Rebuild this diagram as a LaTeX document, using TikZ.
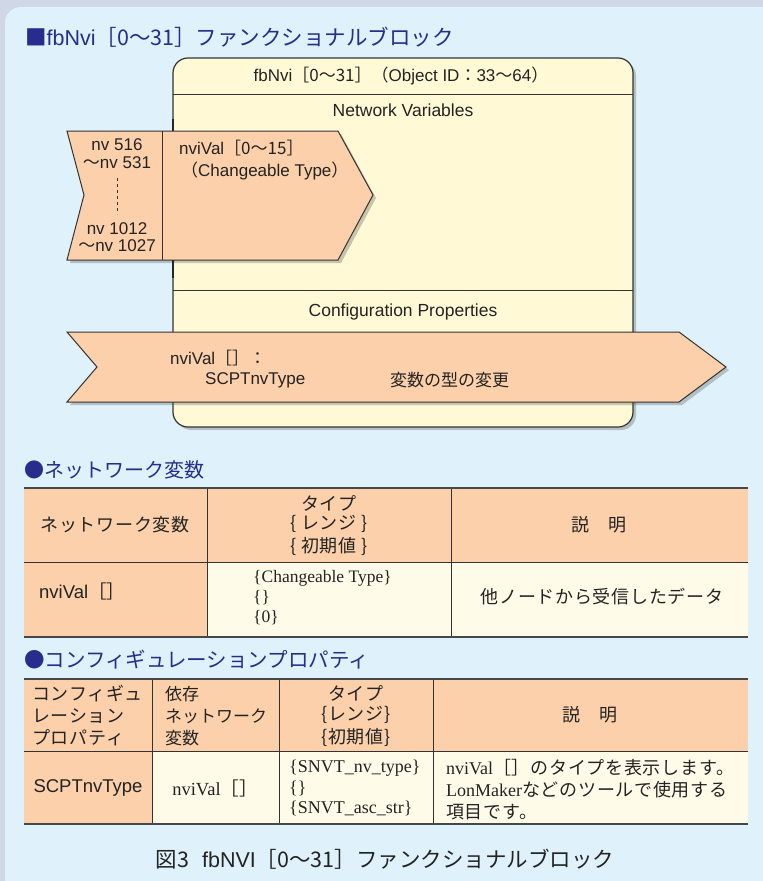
\documentclass[tikz,border=0pt]{standalone}
\usepackage{fontspec}
\setmainfont{Liberation Sans}
\newfontfamily\jp{Noto Sans CJK JP}
\newfontfamily\jpw[LetterSpace=4]{Noto Sans CJK JP}
\newfontfamily\lser{Liberation Serif}
\usetikzlibrary{shadows}
\newcommand\J[1]{{\jp #1}}
\newcommand\W[1]{{\jpw #1}}
\newcommand\fz[1]{\fontsize{#1}{#1}\selectfont}
\definecolor{outerbg}{RGB}{208,216,232}
\definecolor{panel}{RGB}{223,241,250}
\definecolor{boxfill}{RGB}{255,249,214}
\definecolor{peach}{RGB}{251,208,170}
\definecolor{cream}{RGB}{255,251,233}
\definecolor{titleblue}{RGB}{40,44,140}
\definecolor{linec}{RGB}{51,51,51}
\definecolor{textc}{RGB}{35,35,35}
\tikzset{
  shd/.style={drop shadow={shadow xshift=3pt,shadow yshift=-3pt,opacity=0.3,fill=black!70}},
  blockbox/.style={fill=boxfill,draw=linec,line width=1.2pt,rounded corners=15pt,shd},
  arrowshape/.style={fill=peach,draw=linec,line width=1pt,line join=miter,shd},
  tline/.style={draw=linec,line width=0.9pt},
  tthick/.style={draw=linec!90,line width=2pt},
  lbl/.style={inner sep=0pt,text=textc},
  sec/.style={inner sep=0pt,anchor=west,text=titleblue},
}
\begin{document}
\begin{tikzpicture}[x=1pt,y=-1pt]
\useasboundingbox (0,0) rectangle (763,881);
\fill[outerbg] (0,0) rectangle (763,881);
\fill[panel,rounded corners=16pt] (5,7) rectangle (800,920);

% title
\node[sec] (title) at (25,37) {\fz{21.5}\J{■}fbNvi\J{［0～31］ファンクショナルブロック}};

% functional block
\path[blockbox] (173,58) rectangle (633,427);
\draw[linec,line width=1pt] (173,94) -- (633,94);
\draw[linec,line width=1pt] (173,290) -- (633,290);
\node[lbl] (hdr) at (401,76) {\fz{17}fbNvi\J{［0～31］（}Object ID\J{：}33\J{～}64\J{）}};
\node[lbl] (nvlab) at (403,110) {\fz{17.5}Network Variables};
\node[lbl] (cplab) at (403,312) {\fz{17.5}Configuration Properties};

% network variable input arrow
\path[arrowshape] (67,131) -- (338,131) -- (373,195) -- (338,260) -- (67,260) -- (84,195) -- cycle;
\draw[linec,line width=1pt] (162,131) -- (162,260);
\draw[black!85,line width=2.5pt] (173,119) -- (173,131);
\draw[black!85,line width=2.5pt] (173,260) -- (173,278);
\node[lbl] (nv1) at (117,145) {\fz{17}nv 516};
\node[lbl] (nv2) at (117,163) {\fz{17}\J{～}nv 531};
\draw[linec,line width=0.8pt,dash pattern=on 3pt off 3pt] (117,178) -- (117,214);
\node[lbl] (nv3) at (117,229) {\fz{17}nv 1012};
\node[lbl] (nv4) at (117,246) {\fz{17}\J{～}nv 1027};
\node[lbl,anchor=west] (nvival) at (179,148) {\fz{17}nviVal\J{［0～15］}};
\node[lbl,anchor=west] (chg) at (181,171) {\fz{17}\J{（}Changeable Type\J{）}};

% configuration property arrow
\path[arrowshape] (67,332) -- (679,332) -- (726,367) -- (679,402) -- (67,402) -- (97,367) -- cycle;
\node[lbl,anchor=west] (cp1) at (170,358) {\fz{17}nviVal\J{［］：}};
\node[lbl,anchor=west] (cp2) at (205,380) {\fz{17}SCPTnvType};
\node[lbl,anchor=west] (cp3) at (390,380) {\fz{17}\J{変数の型の変更}};

% section 1
\node[sec] (sec1) at (24,470) {\fz{20}\J{●ネットワーク変数}};
\fill[peach] (24,488) rectangle (748,562);
\fill[peach] (24,562) rectangle (207,637);
\fill[cream] (207,562) rectangle (748,637);
\draw[tline] (24,562) -- (748,562);
\draw[tline] (207,488) -- (207,637);
\draw[tline] (451,488) -- (451,637);
\draw[tthick] (24,488) -- (748,488);
\draw[tthick] (24,637) -- (748,637);
\node[lbl] (t1h1) at (115,525) {\fz{18}\W{ネットワーク変数}};
\node[lbl] (t1h2a) at (329,503) {\fz{18}\W{タイプ}};
\node[lbl] (t1h2b) at (329,524) {\fz{18}\W{\{ レンジ \}}};
\node[lbl] (t1h2c) at (329,546) {\fz{18}\W{\{ 初期値 \}}};
\node[lbl] (t1h3) at (599,525) {\fz{18}\W{説　明}};
\node[lbl,anchor=west] (t1b1) at (39,591) {\fz{18.5}nviVal\J{［］}};
\node[lbl,anchor=west] (t1b2a) at (253,578) {\fz{17.5}\lser\{Changeable Type\}};
\node[lbl,anchor=west] (t1b2b) at (253,598) {\fz{17.5}\lser\{\}};
\node[lbl,anchor=west] (t1b2c) at (253,618) {\fz{17.5}\lser\{0\}};
\node[lbl] (t1b3) at (602,597) {\fz{18}\W{他ノードから受信したデータ}};

% section 2
\node[sec] (sec2) at (24,660) {\fz{20.5}\J{●コンフィギュレーションプロパティ}};
\fill[peach] (24,679) rectangle (748,751);
\fill[peach] (24,751) rectangle (152,824);
\fill[cream] (152,751) rectangle (748,824);
\draw[tline] (24,751) -- (748,751);
\draw[tline] (152,679) -- (152,824);
\draw[tline] (279,679) -- (279,824);
\draw[tline] (433,679) -- (433,824);
\draw[tthick] (24,679) -- (748,679);
\draw[tthick] (24,824) -- (748,824);
\node[lbl,anchor=west] (t2h1a) at (32,694) {\fz{18}\W{コンフィギュ}};
\node[lbl,anchor=west] (t2h1b) at (32,716) {\fz{18}\W{レーション}};
\node[lbl,anchor=west] (t2h1c) at (32,738) {\fz{18}\W{プロパティ}};
\node[lbl,anchor=west] (t2h2a) at (165,694) {\fz{17}\J{依存}};
\node[lbl,anchor=west] (t2h2b) at (165,716) {\fz{17}\J{ネットワーク}};
\node[lbl,anchor=west] (t2h2c) at (165,738) {\fz{17}\J{変数}};
\node[lbl] (t2h3a) at (356,693) {\fz{18}\W{タイプ}};
\node[lbl] (t2h3b) at (356,715) {\fz{18}\W{\{レンジ\}}};
\node[lbl] (t2h3c) at (356,737) {\fz{18}\W{\{初期値\}}};
\node[lbl] (t2h4) at (590,715) {\fz{18}\W{説　明}};
\node[lbl] (t2b1) at (88,788) {\fz{18.5}SCPTnvType};
\node[lbl] (t2b2) at (215,788) {\fz{18.5}\lser nviVal\J{［］}};
\node[lbl,anchor=west] (t2b3a) at (289,768) {\fz{18}\lser\{SNVT\_nv\_type\}};
\node[lbl,anchor=west] (t2b3b) at (289,788) {\fz{18}\lser\{\}};
\node[lbl,anchor=west] (t2b3c) at (289,808) {\fz{18}\lser\{SNVT\_asc\_str\}};
\node[lbl,anchor=west] (t2b4a) at (446,768) {\fz{18}\lser nviVal\W{［］のタイプを表示します。}};
\node[lbl,anchor=west] (t2b4b) at (446,790) {\fz{18}\lser LonMaker\W{などのツールで使用する}};
\node[lbl,anchor=west] (t2b4c) at (446,812) {\fz{18}\W{項目です。}};

% caption
\node[lbl] (cap) at (385,859) {\fz{21.5}\J{図3}\hspace{0.6em}fbNVI\J{［0～31］ファンクショナルブロック}};
\end{tikzpicture}
\end{document}
